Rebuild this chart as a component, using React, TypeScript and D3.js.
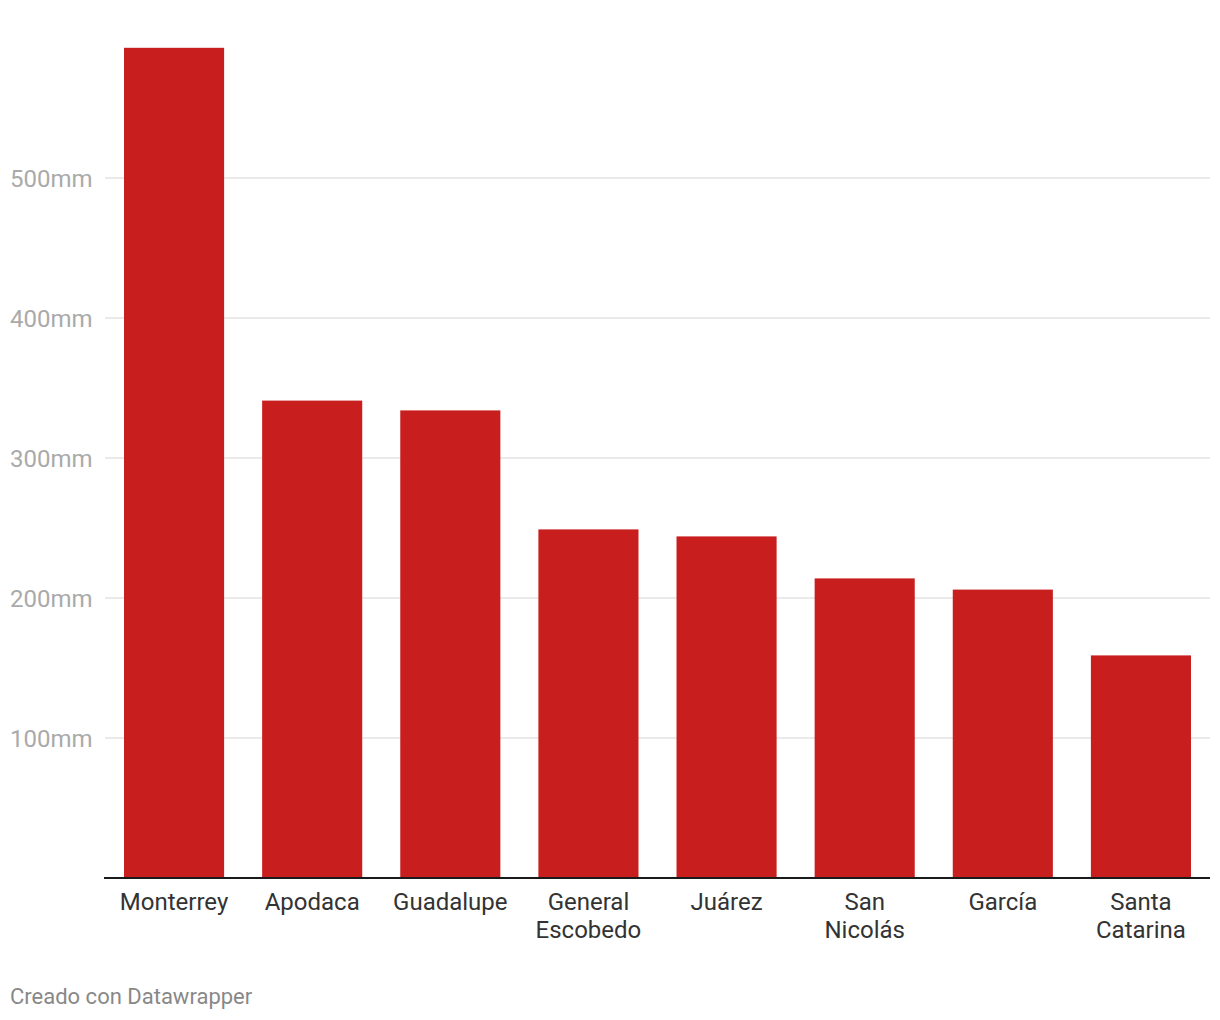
import React, { useEffect, useRef } from "react";
import * as d3 from "d3";

const categories = ["Monterrey", "Apodaca", "Guadalupe", "General Escobedo", "Juárez", "San Nicolás", "García", "Santa Catarina"];
const values = [593, 341, 334, 249, 244, 214, 206, 159];
const yTicks = [100, 200, 300, 400, 500];

const W = 1220;
const H = 1020;

export default function App() {
  const ref = useRef<SVGSVGElement | null>(null);
  useEffect(() => {
    const svg = d3.select(ref.current);
    svg.selectAll("*").remove();
    const font = "Roboto, 'Noto Sans', sans-serif";
    const y = d3.scaleLinear().domain([0, 500]).range([878, 178]);
    const x = d3.scaleBand<string>().domain(categories).range([105, 1210]).paddingInner(38 / 138).paddingOuter(19 / 138);

    const g = svg.append("g");
    g.selectAll("line.grid").data(yTicks).enter().append("line")
      .attr("x1", 105).attr("x2", 1210)
      .attr("y1", (d) => y(d)).attr("y2", (d) => y(d))
      .attr("stroke", "#e3e3e3").attr("stroke-width", 1.5);
    g.selectAll("text.ytick").data(yTicks).enter().append("text")
      .attr("x", 10).attr("y", (d) => y(d) + 8.5)
      .attr("font-family", font).attr("font-size", 24).attr("fill", "#aaaaaa")
      .text((d) => `${d}mm`);

    g.selectAll("rect.bar").data(values).enter().append("rect")
      .attr("x", (_, i) => x(categories[i])!)
      .attr("width", x.bandwidth())
      .attr("y", (d) => y(d))
      .attr("height", (d) => y(0) - y(d))
      .attr("fill", "#c81e1e");

    g.append("line").attr("x1", 104).attr("x2", 1210).attr("y1", 878).attr("y2", 878)
      .attr("stroke", "#1a1a1a").attr("stroke-width", 2);

    categories.forEach((c) => {
      const words = c.split(" ");
      const t = g.append("text")
        .attr("x", x(c)! + x.bandwidth() / 2).attr("y", 910)
        .attr("text-anchor", "middle")
        .attr("font-family", font).attr("font-size", 24).attr("fill", "#333333");
      words.forEach((w, i) => {
        t.append("tspan").attr("x", x(c)! + x.bandwidth() / 2).attr("dy", i === 0 ? 0 : 28).text(w);
      });
    });

    g.append("text").attr("x", 10).attr("y", 1004)
      .attr("font-family", font).attr("font-size", 22).attr("fill", "#888888")
      .text("Creado con Datawrapper");
  }, []);
  return (
    <div style={{ position: "absolute", left: 0, top: 0, background: "#fff" }}>
      <svg ref={ref} width={W} height={H} style={{ display: "block" }} />
    </div>
  );
}
